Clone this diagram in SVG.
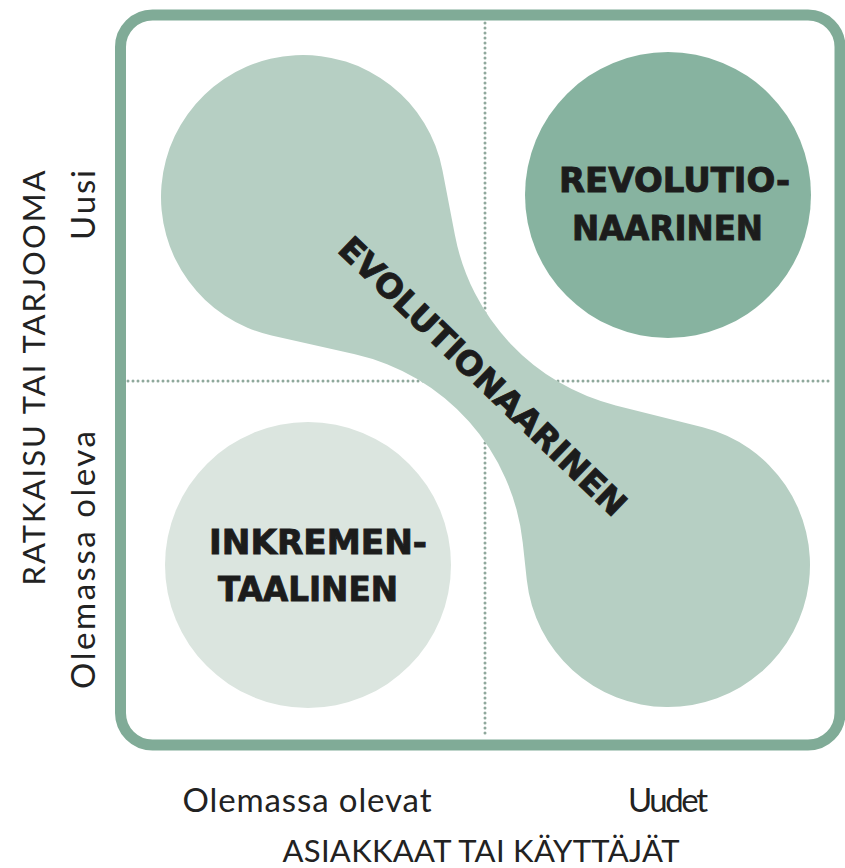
<svg xmlns="http://www.w3.org/2000/svg" width="845" height="868" viewBox="0 0 845 868">
<style>
.axis{font-family:Lato,"Open Sans","Liberation Sans",sans-serif;font-size:31px;fill:#222;}
.tick{font-family:Lato,"Open Sans","Liberation Sans",sans-serif;font-size:33px;fill:#222;}
.lbl{font-family:"DejaVu Sans","Liberation Sans",sans-serif;font-weight:bold;font-size:33px;fill:#1c1c1c;stroke:#1c1c1c;stroke-width:0.9;}
.dots{stroke:#8fa89c;stroke-width:3;stroke-linecap:round;stroke-dasharray:0 5;fill:none;}
</style>
<rect width="845" height="868" fill="#fff"/>
<g id="frame">
<rect x="120.5" y="15" width="719.5" height="730" rx="32" fill="#fff" stroke="#80ab97" stroke-width="11"/>
</g>
<g id="connectors">
<line class="dots" x1="485" y1="23" x2="485" y2="738"/>
<line class="dots" x1="128" y1="381" x2="833" y2="381"/>
</g>
<g id="evolutionaarinen">
<path fill="#b6cfc3" d="M442.45,170.22 L454.91,235.11 A218,218 0 0 0 615.75,405.40 L702.69,427.30 A142,142 0 1 1 526.83,580.32 L522.73,542.58 A217,217 0 0 0 354.97,354.37 L271.61,335.49 A142,142 0 1 1 442.45,170.22 Z"/>
<text class="lbl" transform="translate(483,376) rotate(44)" x="0" y="12" text-anchor="middle" textLength="385" lengthAdjust="spacingAndGlyphs">EVOLUTIONAARINEN</text>
</g>
<g id="revolutionaarinen">
<circle cx="668" cy="195" r="143" fill="#87b3a0"/>
<text class="lbl" x="559" y="192" textLength="231" lengthAdjust="spacingAndGlyphs">REVOLUTIO-</text>
<text class="lbl" x="572" y="240" textLength="191" lengthAdjust="spacingAndGlyphs">NAARINEN</text>
</g>
<g id="inkrementaalinen">
<circle cx="308" cy="565" r="143" fill="#dbe5df"/>
<text class="lbl" x="209" y="554" textLength="218" lengthAdjust="spacingAndGlyphs">INKREMEN-</text>
<text class="lbl" x="218" y="601" textLength="180" lengthAdjust="spacingAndGlyphs">TAALINEN</text>
</g>
<g id="x-axis">
<text class="tick" x="307" y="812" text-anchor="middle" textLength="249">Olemassa olevat</text>
<text class="tick" x="668" y="812" text-anchor="middle" textLength="80">Uudet</text>
<text class="axis" x="481" y="862" text-anchor="middle" textLength="397">ASIAKKAAT TAI KÄYTTÄJÄT</text>
</g>
<g id="y-axis">
<text class="axis" transform="translate(45,378) rotate(-90)" x="0" y="0" text-anchor="middle" textLength="415">RATKAISU TAI TARJOOMA</text>
<text class="tick" transform="translate(95,205) rotate(-90)" x="0" y="0" text-anchor="middle" textLength="70">Uusi</text>
<text class="tick" transform="translate(95,560) rotate(-90)" x="0" y="0" text-anchor="middle" textLength="258">Olemassa oleva</text>
</g>
</svg>
